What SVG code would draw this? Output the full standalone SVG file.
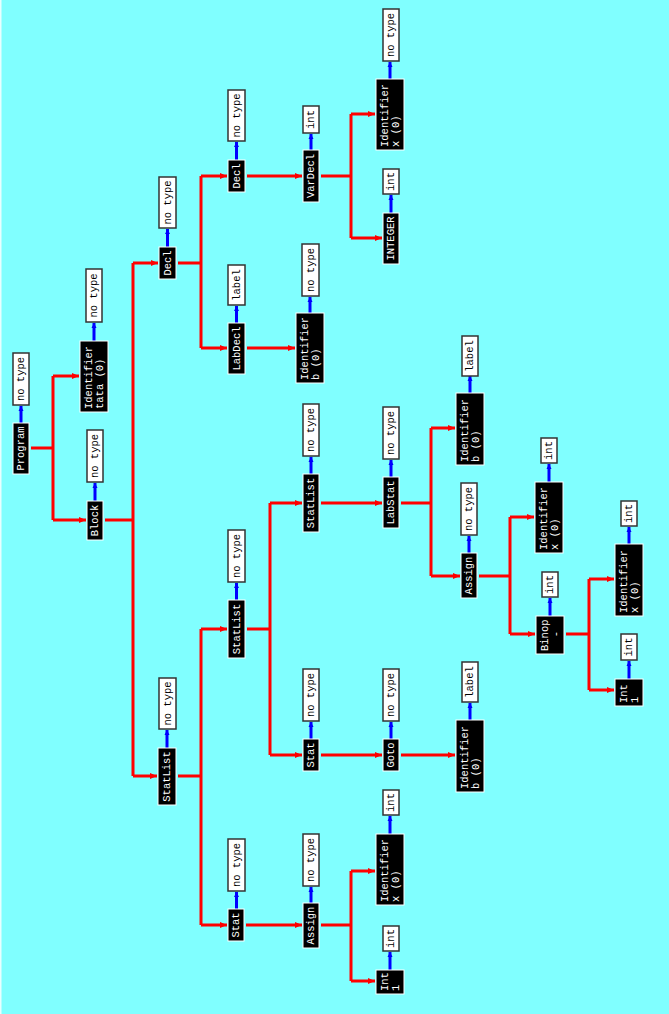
<svg xmlns="http://www.w3.org/2000/svg" width="669" height="1014" viewBox="0 0 669 1014">
  <defs>
    <marker id="ah" markerUnits="userSpaceOnUse" markerWidth="8" markerHeight="8" viewBox="0 0 8 8" refX="7" refY="4" orient="auto">
      <path d="M0,1 L7,4 L0,7 Z" fill="#ff0000"/>
    </marker>
    <marker id="bh" markerUnits="userSpaceOnUse" markerWidth="6" markerHeight="6" viewBox="0 0 6 6" refX="5" refY="3" orient="auto">
      <path d="M0,0.5 L5,3 L0,5.5 Z" fill="#0000ff"/>
    </marker>
    <style>
      .n rect { fill: #000; stroke: #fff; stroke-width: 1; }
      .n text { fill: #fff; }
      .t rect { fill: #fff; stroke: #333; stroke-width: 1.5; }
      .t text { fill: #000; }
      text { font-family: "Liberation Mono", "DejaVu Sans Mono", monospace; font-size: 10.5px; text-anchor: middle; dominant-baseline: central; }
      text.l { text-anchor: start; }
      .e { fill: none; stroke: #ff0000; stroke-width: 3; }
      .ea { fill: none; stroke: #ff0000; stroke-width: 3; marker-end: url(#ah); }
      .b { stroke: #0000ff; stroke-width: 3; marker-end: url(#bh); }
    </style>
  </defs>
  <rect width="669" height="1014" fill="#80ffff"/>
  <line x1="0.75" y1="0" x2="0.75" y2="1014" stroke="#e8ffff" stroke-width="1.5"/>

  <!-- tree edges (parent to children) -->
  <g id="edges">
    <path class="e" d="M31,448 H53 M53,376 V520"/>
    <path class="ea" d="M53,376 H79"/>
    <path class="ea" d="M53,520 H86"/>

    <path class="e" d="M105,520 H133 M133,263 V776"/>
    <path class="ea" d="M133,263 H158"/>
    <path class="ea" d="M133,776 H157"/>

    <path class="e" d="M178,263 H201 M201,176 V348"/>
    <path class="ea" d="M201,176 H227"/>
    <path class="ea" d="M201,348 H227"/>

    <path class="e" d="M178,776 H201 M201,629 V925"/>
    <path class="ea" d="M201,629 H227"/>
    <path class="ea" d="M201,925 H227"/>

    <path class="ea" d="M247,176 H302"/>
    <path class="ea" d="M247,348 H295"/>

    <path class="e" d="M247,629 H270 M270,503 V755"/>
    <path class="ea" d="M270,503 H302"/>
    <path class="ea" d="M270,755 H302"/>

    <path class="ea" d="M246,925 H302"/>

    <path class="e" d="M321,176 H351 M351,114 V238"/>
    <path class="ea" d="M351,114 H375"/>
    <path class="ea" d="M351,238 H382"/>

    <path class="ea" d="M321,503 H382"/>
    <path class="ea" d="M321,755 H382"/>

    <path class="e" d="M321,925 H351 M351,871 V981"/>
    <path class="ea" d="M351,871 H375"/>
    <path class="ea" d="M351,981 H375"/>

    <path class="e" d="M401,503 H431 M431,428 V576"/>
    <path class="ea" d="M431,428 H455"/>
    <path class="ea" d="M431,576 H460"/>

    <path class="ea" d="M401,755 H455"/>

    <path class="e" d="M479,576 H510 M510,517 V634"/>
    <path class="ea" d="M510,517 H534"/>
    <path class="ea" d="M510,634 H535"/>

    <path class="e" d="M566,634 H589 M589,579 V690"/>
    <path class="ea" d="M589,579 H614"/>
    <path class="ea" d="M589,690 H614"/>
  </g>

  <!-- type links (node to its type) -->
  <g id="type-links">
    <line class="b" x1="21" y1="423" x2="21" y2="406"/>
    <line class="b" x1="94" y1="341" x2="94" y2="323"/>
    <line class="b" x1="95" y1="501" x2="95" y2="483"/>
    <line class="b" x1="167.5" y1="247" x2="167.5" y2="229"/>
    <line class="b" x1="167" y1="748" x2="167" y2="730"/>
    <line class="b" x1="236.5" y1="160" x2="236.5" y2="142"/>
    <line class="b" x1="236.5" y1="323" x2="236.5" y2="306"/>
    <line class="b" x1="236.5" y1="600" x2="236.5" y2="583"/>
    <line class="b" x1="236.5" y1="909" x2="236.5" y2="892"/>
    <line class="b" x1="311" y1="150" x2="311" y2="134"/>
    <line class="b" x1="310" y1="313" x2="310" y2="297"/>
    <line class="b" x1="311" y1="474" x2="311" y2="457"/>
    <line class="b" x1="311" y1="739" x2="311" y2="722"/>
    <line class="b" x1="311" y1="903" x2="311" y2="887"/>
    <line class="b" x1="390" y1="79" x2="390" y2="62"/>
    <line class="b" x1="391" y1="213" x2="391" y2="195"/>
    <line class="b" x1="391" y1="477" x2="391" y2="460"/>
    <line class="b" x1="391" y1="739" x2="391" y2="722"/>
    <line class="b" x1="390" y1="834" x2="390" y2="816"/>
    <line class="b" x1="390" y1="970" x2="390" y2="952"/>
    <line class="b" x1="470" y1="393" x2="470" y2="376"/>
    <line class="b" x1="469" y1="553" x2="469" y2="536"/>
    <line class="b" x1="470" y1="720" x2="470" y2="703"/>
    <line class="b" x1="549" y1="482" x2="549" y2="464"/>
    <line class="b" x1="550" y1="616" x2="550" y2="598"/>
    <line class="b" x1="629" y1="544" x2="629" y2="527"/>
    <line class="b" x1="629" y1="679" x2="629" y2="661"/>
  </g>

  <!-- Program -->
  <g id="program">
    <g class="n"><rect x="13" y="423" width="16" height="51"/><text transform="translate(21,448.5) rotate(-90)">Program</text></g>
    <g class="t"><rect x="13" y="353" width="16" height="52"/><text transform="translate(21,379) rotate(-90)">no type</text></g>
  </g>

  <g id="ident-tata">
    <g class="n"><rect x="80" y="341" width="28" height="71"/>
      <text class="l" transform="translate(94,409) rotate(-90)" y="-5.5">Identifier</text>
      <text class="l" transform="translate(94,409) rotate(-90)" y="5.5">tata (0)</text></g>
    <g class="t"><rect x="86" y="269" width="16" height="53"/><text transform="translate(94,295.5) rotate(-90)">no type</text></g>
  </g>

  <g id="block">
    <g class="n"><rect x="87" y="501" width="16" height="39"/><text transform="translate(95,520.5) rotate(-90)">Block</text></g>
    <g class="t"><rect x="87" y="430" width="16" height="52"/><text transform="translate(95,456) rotate(-90)">no type</text></g>
  </g>

  <g id="decl-1">
    <g class="n"><rect x="159" y="247" width="17" height="32"/><text transform="translate(167.5,263) rotate(-90)">Decl</text></g>
    <g class="t"><rect x="159" y="177" width="17" height="51"/><text transform="translate(167.5,202.5) rotate(-90)">no type</text></g>
  </g>

  <g id="statlist-1">
    <g class="n"><rect x="158" y="748" width="18" height="57"/><text transform="translate(167,776.5) rotate(-90)">StatList</text></g>
    <g class="t"><rect x="159" y="678" width="17" height="51"/><text transform="translate(167.5,703.5) rotate(-90)">no type</text></g>
  </g>

  <g id="decl-2">
    <g class="n"><rect x="228" y="160" width="17" height="32"/><text transform="translate(236.5,176) rotate(-90)">Decl</text></g>
    <g class="t"><rect x="228" y="90" width="17" height="51"/><text transform="translate(236.5,115.5) rotate(-90)">no type</text></g>
  </g>

  <g id="labdecl">
    <g class="n"><rect x="228" y="323" width="17" height="51"/><text transform="translate(236.5,348.5) rotate(-90)">LabDecl</text></g>
    <g class="t"><rect x="228" y="265" width="17" height="40"/><text transform="translate(236.5,285) rotate(-90)">label</text></g>
  </g>

  <g id="statlist-2">
    <g class="n"><rect x="228" y="600" width="17" height="58"/><text transform="translate(236.5,629) rotate(-90)">StatList</text></g>
    <g class="t"><rect x="228" y="530" width="17" height="52"/><text transform="translate(236.5,556) rotate(-90)">no type</text></g>
  </g>

  <g id="stat-1">
    <g class="n"><rect x="228" y="909" width="16" height="32"/><text transform="translate(236,925) rotate(-90)">Stat</text></g>
    <g class="t"><rect x="228" y="839" width="17" height="52"/><text transform="translate(236.5,865) rotate(-90)">no type</text></g>
  </g>

  <g id="vardecl">
    <g class="n"><rect x="303" y="150" width="16" height="52"/><text transform="translate(311,176) rotate(-90)">VarDecl</text></g>
    <g class="t"><rect x="303" y="106" width="16" height="27"/><text transform="translate(311,119.5) rotate(-90)">int</text></g>
  </g>

  <g id="ident-b-1">
    <g class="n"><rect x="296" y="313" width="28" height="70"/>
      <text class="l" transform="translate(310,380) rotate(-90)" y="-5.5">Identifier</text>
      <text class="l" transform="translate(310,380) rotate(-90)" y="5.5">b (0)</text></g>
    <g class="t"><rect x="302" y="244" width="17" height="52"/><text transform="translate(310.5,270) rotate(-90)">no type</text></g>
  </g>

  <g id="statlist-3">
    <g class="n"><rect x="303" y="474" width="16" height="58"/><text transform="translate(311,503) rotate(-90)">StatList</text></g>
    <g class="t"><rect x="303" y="404" width="16" height="52"/><text transform="translate(311,430) rotate(-90)">no type</text></g>
  </g>

  <g id="stat-2">
    <g class="n"><rect x="303" y="739" width="16" height="32"/><text transform="translate(311,755) rotate(-90)">Stat</text></g>
    <g class="t"><rect x="303" y="669" width="16" height="52"/><text transform="translate(311,695) rotate(-90)">no type</text></g>
  </g>

  <g id="assign-1">
    <g class="n"><rect x="303" y="903" width="16" height="45"/><text transform="translate(311,925.5) rotate(-90)">Assign</text></g>
    <g class="t"><rect x="303" y="834" width="16" height="52"/><text transform="translate(311,860) rotate(-90)">no type</text></g>
  </g>

  <g id="ident-x-1">
    <g class="n"><rect x="376" y="79" width="28" height="71"/>
      <text class="l" transform="translate(390,147) rotate(-90)" y="-5.5">Identifier</text>
      <text class="l" transform="translate(390,147) rotate(-90)" y="5.5">x (0)</text></g>
    <g class="t"><rect x="383" y="9" width="16" height="52"/><text transform="translate(391,35) rotate(-90)">no type</text></g>
  </g>

  <g id="integer">
    <g class="n"><rect x="383" y="213" width="16" height="51"/><text transform="translate(391,238.5) rotate(-90)">INTEGER</text></g>
    <g class="t"><rect x="383" y="169" width="16" height="25"/><text transform="translate(391,181.5) rotate(-90)">int</text></g>
  </g>

  <g id="labstat">
    <g class="n"><rect x="383" y="477" width="16" height="51"/><text transform="translate(391,502.5) rotate(-90)">LabStat</text></g>
    <g class="t"><rect x="383" y="407" width="16" height="52"/><text transform="translate(391,433) rotate(-90)">no type</text></g>
  </g>

  <g id="goto">
    <g class="n"><rect x="383" y="739" width="16" height="32"/><text transform="translate(391,755) rotate(-90)">Goto</text></g>
    <g class="t"><rect x="383" y="669" width="16" height="52"/><text transform="translate(391,695) rotate(-90)">no type</text></g>
  </g>

  <g id="ident-x-2">
    <g class="n"><rect x="376" y="834" width="28" height="71"/>
      <text class="l" transform="translate(390,902) rotate(-90)" y="-5.5">Identifier</text>
      <text class="l" transform="translate(390,902) rotate(-90)" y="5.5">x (0)</text></g>
    <g class="t"><rect x="383" y="790" width="16" height="25"/><text transform="translate(391,802.5) rotate(-90)">int</text></g>
  </g>

  <g id="int-1">
    <g class="n"><rect x="376" y="970" width="28" height="24"/>
      <text class="l" transform="translate(390,991) rotate(-90)" y="-5.5">Int</text>
      <text class="l" transform="translate(390,991) rotate(-90)" y="5.5">1</text></g>
    <g class="t"><rect x="383" y="926" width="16" height="25"/><text transform="translate(391,938.5) rotate(-90)">int</text></g>
  </g>

  <g id="ident-b-2">
    <g class="n"><rect x="456" y="393" width="28" height="72"/>
      <text class="l" transform="translate(470,462) rotate(-90)" y="-5.5">Identifier</text>
      <text class="l" transform="translate(470,462) rotate(-90)" y="5.5">b (0)</text></g>
    <g class="t"><rect x="462" y="336" width="16" height="40"/><text transform="translate(470,356) rotate(-90)">label</text></g>
  </g>

  <g id="assign-2">
    <g class="n"><rect x="461" y="553" width="16" height="45"/><text transform="translate(469,575.5) rotate(-90)">Assign</text></g>
    <g class="t"><rect x="461" y="483" width="16" height="52"/><text transform="translate(469,509) rotate(-90)">no type</text></g>
  </g>

  <g id="ident-b-3">
    <g class="n"><rect x="456" y="720" width="28" height="72"/>
      <text class="l" transform="translate(470,789) rotate(-90)" y="-5.5">Identifier</text>
      <text class="l" transform="translate(470,789) rotate(-90)" y="5.5">b (0)</text></g>
    <g class="t"><rect x="462" y="662" width="16" height="40"/><text transform="translate(470,682) rotate(-90)">label</text></g>
  </g>

  <g id="ident-x-3">
    <g class="n"><rect x="535" y="482" width="28" height="71"/>
      <text class="l" transform="translate(549,550) rotate(-90)" y="-5.5">Identifier</text>
      <text class="l" transform="translate(549,550) rotate(-90)" y="5.5">x (0)</text></g>
    <g class="t"><rect x="541" y="438" width="16" height="25"/><text transform="translate(549,450.5) rotate(-90)">int</text></g>
  </g>

  <g id="binop">
    <g class="n"><rect x="536" y="616" width="28" height="38"/>
      <text class="l" transform="translate(550,651) rotate(-90)" y="-5.5">Binop</text>
      <text transform="translate(550,634) rotate(-90)" y="5.5">-</text></g>
    <g class="t"><rect x="542" y="572" width="16" height="25"/><text transform="translate(550,584.5) rotate(-90)">int</text></g>
  </g>

  <g id="ident-x-4">
    <g class="n"><rect x="615" y="544" width="28" height="72"/>
      <text class="l" transform="translate(629,613) rotate(-90)" y="-5.5">Identifier</text>
      <text class="l" transform="translate(629,613) rotate(-90)" y="5.5">x (0)</text></g>
    <g class="t"><rect x="621" y="501" width="16" height="25"/><text transform="translate(629,513.5) rotate(-90)">int</text></g>
  </g>

  <g id="int-2">
    <g class="n"><rect x="615" y="679" width="28" height="27"/>
      <text class="l" transform="translate(629,703) rotate(-90)" y="-5.5">Int</text>
      <text class="l" transform="translate(629,703) rotate(-90)" y="5.5">1</text></g>
    <g class="t"><rect x="621" y="634" width="16" height="26"/><text transform="translate(629,647) rotate(-90)">int</text></g>
  </g>
</svg>
